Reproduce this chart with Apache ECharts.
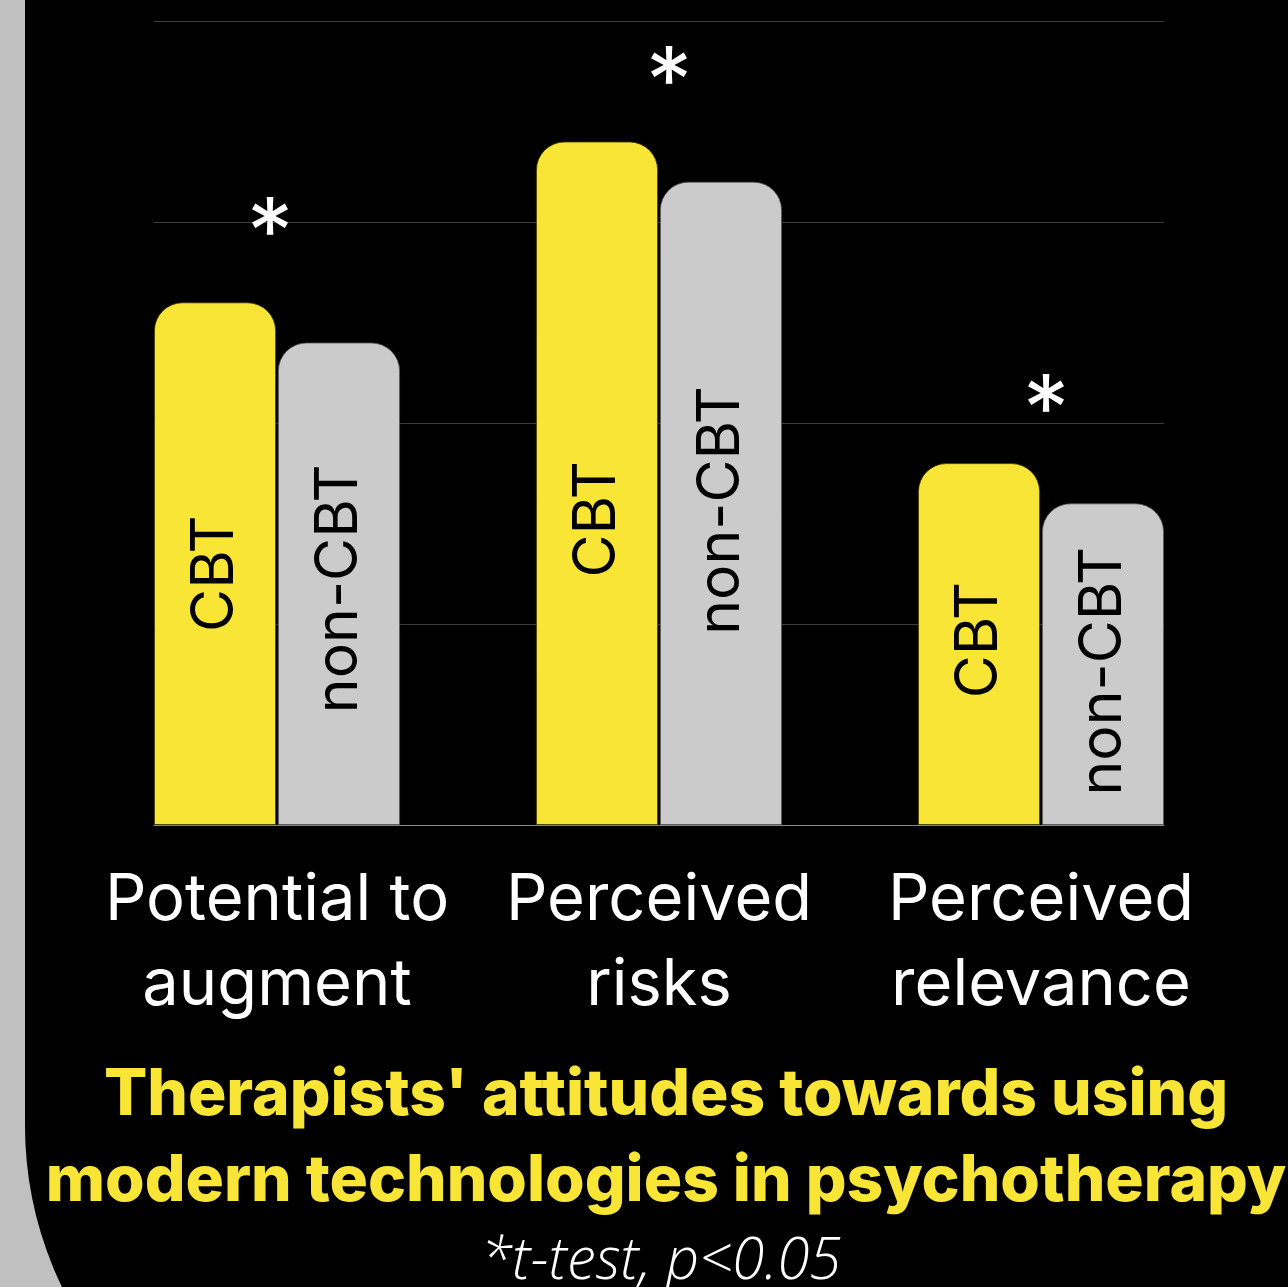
<!DOCTYPE html>
<html><head><meta charset="utf-8">
<script src="https://cdn.jsdelivr.net/npm/echarts@6/dist/echarts.min.js"></script>
<style>html,body{margin:0;padding:0;background:#c0c0c0}#c{width:1288px;height:1287px}</style>
</head><body><div id="c"></div>
<script>
const categories = ['Potential to\naugment', 'Perceived\nrisks', 'Perceived\nrelevance'];
const cbtValues = [2.60, 3.40, 1.80];
const nonCbtValues = [2.40, 3.20, 1.60];
const significant = [true, true, true];
const valueTicks = [0, 1, 2, 3, 4];
const seriesNames = ['CBT', 'non-CBT'];
const titleText = "Therapists' attitudes towards using\nmodern technologies in psychotherapy";
const noteText = '*t-test, p<0.05';

const chart = echarts.init(document.getElementById('c'), null, {renderer: 'canvas'});
const yMin = valueTicks[0], yMax = valueTicks[valueTicks.length - 1];
const barLabel = {
  show: true, position: 'inside', rotate: 90, formatter: '{a}',
  color: '#000', fontSize: 59, fontFamily: 'Inter', fontWeight: 400
};
// label offsets are in the rotated frame: negative x moves the text down
const cbtLabelShift = [[-10, 0], [-36, 0], [4, 0]];
const nonLabelShift = [[-5, 0], [-7, 0], [-7, 0]];
const starShift = [[-7, -66], [10, -56], [5, -50]];
const option = {
  backgroundColor: '#c0c0c0',
  animation: false,
  graphic: {
    elements: [{
      type: 'rect', z: -100, silent: true,
      shape: {x: 25, y: -50, width: 1400, height: 1545, r: [0, 0, 0, 369]},
      style: {fill: '#000'}
    }]
  },
  title: [{
    text: titleText, left: 661, top: 1048, textAlign: 'center',
    textStyle: {color: '#F8E535', fontSize: 64, fontWeight: 800, fontFamily: 'Inter', lineHeight: 86}
  }, {
    text: noteText, left: 656, top: 1228, textAlign: 'center',
    textStyle: {color: '#fff', fontSize: 58, fontWeight: 300, fontStyle: 'italic', fontFamily: 'Open Sans'}
  }],
  grid: [
    {left: 86, right: 56, top: 21, bottom: 462},
    {left: 154, right: 124, top: 21, bottom: 462}
  ],
  xAxis: [{
    type: 'category', data: categories, gridIndex: 0,
    axisLine: {show: false}, axisTick: {show: false},
    axisLabel: {color: '#fff', fontSize: 65, lineHeight: 85, fontFamily: 'Inter', margin: 33, interval: 0}
  }, {
    type: 'value', gridIndex: 1, min: 0, max: 1,
    axisLine: {show: true, onZero: false, lineStyle: {color: '#8a8a8a', width: 1}},
    axisTick: {show: false}, axisLabel: {show: false}, splitLine: {show: false}
  }],
  yAxis: [{
    type: 'value', gridIndex: 0, min: yMin, max: yMax, interval: 1,
    axisLine: {show: false}, axisTick: {show: false}, axisLabel: {show: false}, splitLine: {show: false}
  }, {
    type: 'value', gridIndex: 1, min: yMin, max: yMax, interval: 1,
    axisLine: {show: false}, axisTick: {show: false}, axisLabel: {show: false},
    splitLine: {show: true, lineStyle: {color: '#3c3c3c', width: 1}}
  }],
  series: [{
    type: 'line', xAxisIndex: 1, yAxisIndex: 1, data: [], silent: true
  }, {
    name: seriesNames[0], type: 'bar', xAxisIndex: 0, yAxisIndex: 0,
    data: cbtValues.map((v, i) => ({value: v, label: {offset: cbtLabelShift[i]}})),
    barWidth: 122, barGap: '1.6%', z: 3,
    itemStyle: {color: '#F8E535', borderRadius: [28, 28, 0, 0], borderColor: '#3a3500', borderWidth: 0.8},
    label: barLabel,
    markPoint: {
      symbol: 'circle', symbolSize: 1, itemStyle: {color: 'rgba(0,0,0,0)'},
      label: {show: true, formatter: '*', color: '#fff', fontSize: 92, fontFamily: 'Inter'},
      data: categories.map((c, i) => significant[i] ? {coord: [i, cbtValues[i]], label: {offset: [62 + starShift[i][0], starShift[i][1]]}} : null).filter(Boolean)
    }
  }, {
    name: seriesNames[1], type: 'bar', xAxisIndex: 0, yAxisIndex: 0,
    data: nonCbtValues.map((v, i) => ({value: v, label: {offset: nonLabelShift[i]}})),
    barWidth: 122, z: 3,
    itemStyle: {color: '#CBCBCB', borderRadius: [28, 28, 0, 0], borderColor: '#555', borderWidth: 0.8},
    label: barLabel
  }]
};
chart.setOption(option);
</script>
</body></html>
